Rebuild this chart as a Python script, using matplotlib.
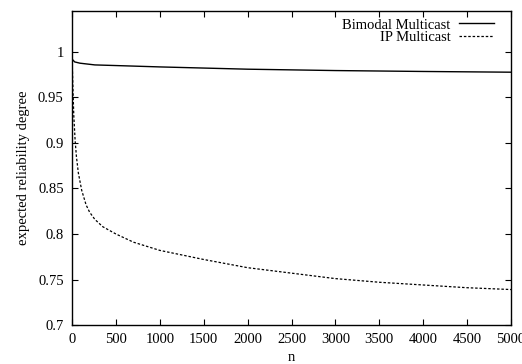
import matplotlib
matplotlib.use("Agg")
import matplotlib.pyplot as plt

# values
bimodal_n = [1, 30, 90, 260, 500, 1000, 2000, 3000, 4000, 5000]
bimodal_r = [0.992, 0.989, 0.9876, 0.9857, 0.985, 0.9835, 0.981, 0.9795, 0.9785, 0.9777]

ip_n = [1, 10, 20, 35, 50, 72, 110, 160, 200, 260, 350, 500, 700, 1000, 1500,
        2000, 2500, 3000, 3500, 4000, 4500, 5000]
ip_r = [0.993, 0.96, 0.93, 0.903, 0.885, 0.867, 0.848, 0.832, 0.824, 0.816,
        0.808, 0.800, 0.791, 0.782, 0.772, 0.763, 0.757, 0.751, 0.747, 0.744,
        0.741, 0.739]

x_ticks = [0, 500, 1000, 1500, 2000, 2500, 3000, 3500, 4000, 4500, 5000]
y_ticks = [0.7, 0.75, 0.8, 0.85, 0.9, 0.95, 1.0]
y_labels = ["0.7", "0.75", "0.8", "0.85", "0.9", "0.95", "1"]

plt.rcParams['font.family'] = ['Liberation Serif', 'DejaVu Serif']
plt.rcParams['font.size'] = 10.5

fig = plt.figure(figsize=(5.22, 3.64), dpi=100)
ax = fig.add_axes([0.138, 0.107, 0.841, 0.863])

ax.plot(bimodal_n, bimodal_r, color='black', lw=1.0, label='Bimodal Multicast')
ax.plot(ip_n, ip_r, color='black', lw=0.9, linestyle=(0, (2, 1.5)), label='IP Multicast')

ax.set_xlim(0, 5000)
ax.set_ylim(0.7, 1.045)
ax.set_xticks(x_ticks)
ax.set_xticklabels([str(t) for t in x_ticks])
ax.set_yticks(y_ticks)
ax.set_yticklabels(y_labels)
ax.tick_params(direction='in', top=True, right=True, length=4, width=0.8, pad=6)
for s in ax.spines.values():
    s.set_linewidth(1.0)

ax.set_xlabel('n', labelpad=3)
ax.set_ylabel('expected reliability degree', labelpad=6)

ax.legend(loc='upper right', bbox_to_anchor=(0.975, 0.995), frameon=False,
          markerfirst=False, handlelength=2.45, handletextpad=0.55,
          labelspacing=-0.05, borderaxespad=0.0, fontsize=10.5)

fig.savefig('out.png', dpi=100)
